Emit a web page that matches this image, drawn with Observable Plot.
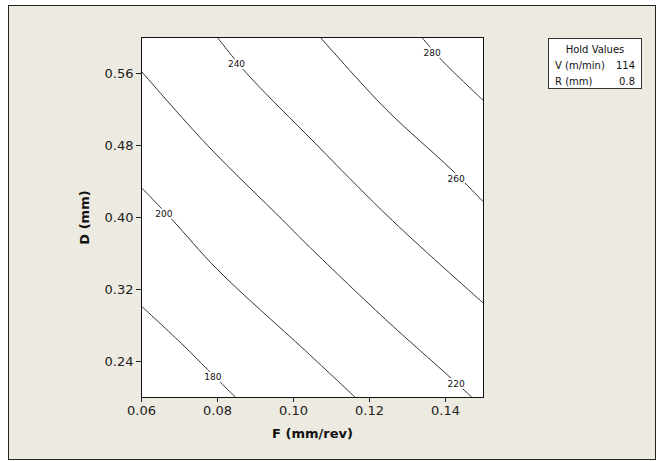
<!DOCTYPE html>
<html><head><meta charset="utf-8">
<script src="https://cdn.jsdelivr.net/npm/d3@7"></script>
<script src="https://cdn.jsdelivr.net/npm/@observablehq/plot@0.6"></script>
<style>
body{margin:0;background:#fff;}
#wrap{position:relative;width:657px;height:461px;overflow:hidden;}
#bg{position:absolute;left:8px;top:5px;width:646px;height:453px;background:#EDEAE1;border:1px solid #222;}
#chart{position:absolute;left:0;top:0;}
#legend{position:absolute;left:548px;top:38px;width:94px;height:51px;border:1px solid #333;background:#fff;
  font:10px "DejaVu Sans",sans-serif;color:#111;box-sizing:border-box;padding:3px 6px 0 6px;}
#legend .r{height:16px;line-height:16px;display:flex;justify-content:space-between;}
#legend .t{height:16px;line-height:16px;text-align:center;}
g[aria-label="x-axis label"] text, g[aria-label="y-axis label"] text{font-weight:bold;fill:#111;}
</style></head>
<body>
<div id="wrap"><div id="bg"></div><div id="chart"></div>
<div id="legend">
  <div class="t" id="lt"></div>
  <div class="r"><span id="l1"></span><span id="v1"></span></div>
  <div class="r"><span id="l2"></span><span id="v2"></span></div>
</div></div>
<script>
// Contour levels
const levels = [180, 200, 220, 240, 260, 280];
// Points along each contour (F, D)
const f180 = [0.060, 0.0712, 0.0773, 0.0848];
const d180 = [0.3015, 0.2572, 0.2314, 0.200];
const f200 = [0.060, 0.0681, 0.080, 0.1032, 0.1163];
const d200 = [0.4331, 0.3974, 0.3421, 0.2517, 0.200];
const f220 = [0.060, 0.0773, 0.0971, 0.1032, 0.1242, 0.1408, 0.1470];
const d220 = [0.5623, 0.4804, 0.3974, 0.3715, 0.2868, 0.2240, 0.200];
const f240 = [0.080, 0.0874, 0.1032, 0.1261, 0.1499];
const d240 = [0.600, 0.5615, 0.4932, 0.3963, 0.3051];
const f260 = [0.1071, 0.1242, 0.1417, 0.1499];
const d260 = [0.600, 0.5209, 0.4527, 0.4177];
const f280 = [0.1338, 0.1391, 0.1499];
const d280 = [0.600, 0.5744, 0.5302];
// Contour label positions
const labelF = [0.0788, 0.0659, 0.1428, 0.0850, 0.1428, 0.1365];
const labelD = [0.2229, 0.4036, 0.2148, 0.5703, 0.4431, 0.5829];
// Axis ticks
const xTicks = [0.06, 0.08, 0.10, 0.12, 0.14];
const yTicks = [0.24, 0.32, 0.40, 0.48, 0.56];
// Hold values
const holdNames = ["V (m/min)", "R (mm)"];
const holdValues = ["114", "0.8"];

const fs = [f180, f200, f220, f240, f260, f280];
const ds = [d180, d200, d220, d240, d260, d280];
const rows = [];
levels.forEach((lv, i) => fs[i].forEach((f, j) => rows.push({level: lv, F: f, D: ds[i][j]})));
const labels = levels.map((lv, i) => ({level: lv, F: labelF[i], D: labelD[i]}));

const chart = Plot.plot({
  width: 657, height: 461,
  marginLeft: 141, marginRight: 174, marginTop: 37, marginBottom: 64,
  style: {background: "transparent", fontFamily: "DejaVu Sans, sans-serif", fontSize: "13px", color: "#222"},
  x: {domain: [0.06, 0.15]},
  y: {domain: [0.2, 0.6]},
  marks: [
    Plot.frame({fill: "white"}),
    Plot.line(rows, {x: "F", y: "D", z: "level", stroke: "#333", strokeWidth: 1, curve: "catmull-rom", clip: true}),
    Plot.text(labels, {x: "F", y: "D", text: d => String(d.level), fontSize: 9, fill: "#111", stroke: "white", strokeWidth: 4}),
    Plot.frame({stroke: "#111"}),
    Plot.axisX({ticks: xTicks, tickFormat: d3.format(".2f"), tickSize: 5, tickPadding: 3, label: "F (mm/rev)", labelAnchor: "center", labelArrow: "none", labelOffset: 40}),
    Plot.axisY({ticks: yTicks, tickFormat: d3.format(".2f"), tickSize: 5, tickPadding: 3, label: "D (mm)", labelAnchor: "center", labelArrow: "none", labelOffset: 62})
  ]
});
document.getElementById("chart").appendChild(chart);
document.getElementById("lt").textContent = "Hold Values";
document.getElementById("l1").textContent = holdNames[0];
document.getElementById("v1").textContent = holdValues[0];
document.getElementById("l2").textContent = holdNames[1];
document.getElementById("v2").textContent = holdValues[1];
</script>
</body></html>
